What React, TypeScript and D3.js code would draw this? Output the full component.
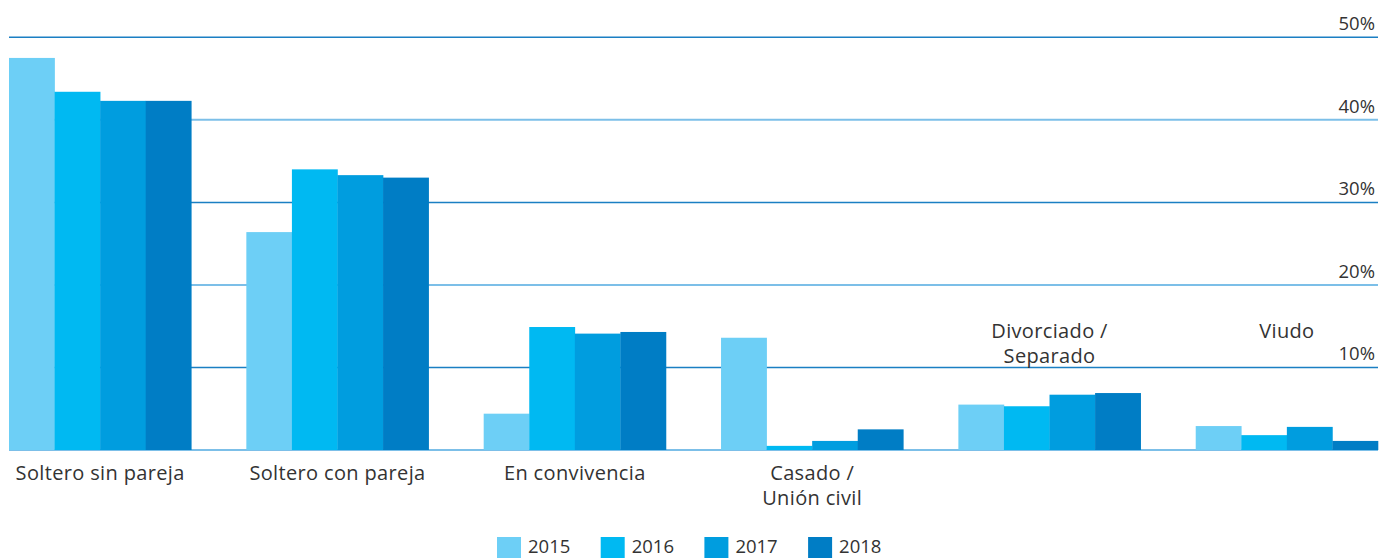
import React from "react";
import * as d3 from "d3";

const categories = [
  "Soltero sin pareja",
  "Soltero con pareja",
  "En convivencia",
  "Casado / Unión civil",
  "Divorciado / Separado",
  "Viudo",
];
const categoryLines = [
  ["Soltero sin pareja"],
  ["Soltero con pareja"],
  ["En convivencia"],
  ["Casado /", "Unión civil"],
  ["Divorciado /", "Separado"],
  ["Viudo"],
];
const years = ["2015", "2016", "2017", "2018"];
const values2015 = [47.5, 26.4, 4.4, 13.6, 5.5, 2.9];
const values2016 = [43.4, 34.0, 14.9, 0.5, 5.3, 1.8];
const values2017 = [42.3, 33.3, 14.1, 1.1, 6.7, 2.8];
const values2018 = [42.3, 33.0, 14.3, 2.5, 6.9, 1.1];
const yTicks = [0, 10, 20, 30, 40, 50];

const series = [values2015, values2016, values2017, values2018];
const colors = ["#6dcff6", "#00b9f2", "#009ddf", "#007dc5"];

const W = 1381;
const H = 558;
const FONT = "'Open Sans', sans-serif";
const TEXT = "#333333";

export default function App() {
  const x0 = d3.scaleBand<string>().domain(categories).range([9, 1378]).paddingInner(0.232).paddingOuter(0);
  const x1 = d3.scaleBand<string>().domain(years).range([0, x0.bandwidth()]).padding(0);
  const y = d3.scaleLinear().domain([0, 50]).range([450, 37.3]);

  const aboveLabels = new Set([4, 5]);

  return (
    <svg width={W} height={H} style={{ position: "absolute", left: 0, top: 0, background: "#fff" }}>
      {yTicks.map((t) => (
        <line
          key={"g" + t}
          x1={9}
          x2={1378}
          y1={y(t)}
          y2={y(t)}
          stroke={t % 20 === 0 ? "#7cbfe8" : "#1b7fc3"}
          strokeWidth={t % 20 === 0 ? 2 : 1.5}
        />
      ))}
      {yTicks
        .filter((t) => t > 0)
        .map((t) => (
          <text key={"t" + t} x={1375} y={y(t) - 7} textAnchor="end" fontFamily={FONT} fontSize={18.5} fill={TEXT}>
            {t}%
          </text>
        ))}
      {categories.map((c, ci) => (
        <g key={c} transform={`translate(${x0(c)},0)`}>
          {series.map((vals, si) => (
            <rect
              key={si}
              x={x1(years[si])}
              width={x1.bandwidth() + 0.3}
              y={y(vals[ci])}
              height={y(0) - y(vals[ci])}
              fill={colors[si]}
            />
          ))}
        </g>
      ))}
      {categories.map((c, ci) => {
        const cx = (x0(c) as number) + x0.bandwidth() / 2;
        const baseY = aboveLabels.has(ci) ? 338 : 480;
        return (
          <text
            key={"l" + c}
            textAnchor="middle"
            fontFamily={FONT}
            fontSize={20}
            letterSpacing={0.35}
            fill={TEXT}
          >
            {categoryLines[ci].map((line, li) => (
              <tspan key={li} x={cx} y={baseY + li * 25}>
                {line}
              </tspan>
            ))}
          </text>
        );
      })}
      {years.map((yr, i) => {
        const lx = 497 + i * 103.7;
        return (
          <g key={yr}>
            <rect x={lx} y={537} width={24} height={21} fill={colors[i]} />
            <text x={lx + 31} y={553} fontFamily={FONT} fontSize={18.5} fill={TEXT}>
              {yr}
            </text>
          </g>
        );
      })}
    </svg>
  );
}
